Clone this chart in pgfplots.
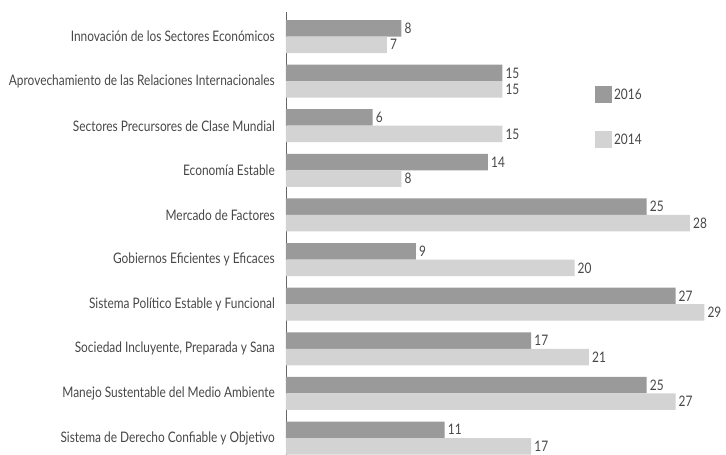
\documentclass[border=0pt]{standalone}
\usepackage{fontspec}
\setmainfont{Lato}[FakeStretch=0.82]
\usepackage{pgfplots}
\pgfplotsset{compat=1.18}
\definecolor{darkbar}{HTML}{9A9A9A}
\definecolor{lightbar}{HTML}{D3D3D3}
\definecolor{txt}{HTML}{474747}
\begin{document}
\begin{tikzpicture}
\begin{axis}[
  at={(286pt,0pt)}, anchor=south west,
  scale only axis, width=440pt, height=443pt,
  xmin=0, xmax=30.5,
  ymin=-0.381, ymax=9.55,
  /pgf/number format/assume math mode=true,
  axis x line=none,
  axis y line*=left,
  y axis line style={draw=black!60, line width=0.8pt, -},
  ytick={0,...,9},
  yticklabels={Sistema de Derecho Confiable y Objetivo,
    Manejo Sustentable del Medio Ambiente,
    {Sociedad Incluyente, Preparada y Sana},
    Sistema Político Estable y Funcional,
    Gobiernos Eficientes y Eficaces,
    Mercado de Factores,
    Economía Estable,
    Sectores Precursores de Clase Mundial,
    Aprovechamiento de las Relaciones Internacionales,
    Innovación de los Sectores Económicos},
  major tick length=0pt,
  yticklabel style={font=\fontsize{14.5}{16}\selectfont, text=txt, inner sep=0pt, xshift=-11pt},
  xbar, bar width=16.5pt,
  nodes near coords,
  every node near coord/.append style={font=\fontsize{14.5}{16}\selectfont, text=txt, anchor=west, inner sep=0pt, xshift=3pt},
  legend style={at={(rel axis cs:0.702,0.833)}, anchor=north west, draw=none, fill=none,
    font=\fontsize{14.5}{16}\selectfont, text=txt, row sep=28pt, inner sep=0pt,
    /tikz/every even column/.append style={column sep=6pt}},
  legend cell align=left,
  legend image code/.code={\fill[#1] (0pt,-8.5pt) rectangle (17pt,8.5pt);},
  clip=false,
]
\addplot[fill=darkbar, draw=none, bar shift=8.25pt] coordinates {
  (11,0) (25,1) (17,2) (27,3) (9,4) (25,5) (14,6) (6,7) (15,8) (8,9)};
\addlegendentry{2016}
\addplot[fill=lightbar, draw=none, bar shift=-8.25pt] coordinates {
  (17,0) (27,1) (21,2) (29,3) (20,4) (28,5) (8,6) (15,7) (15,8) (7,9)};
\addlegendentry{2014}
\end{axis}
\pgfresetboundingbox
\path[use as bounding box] (0pt,0pt) rectangle (726pt,455pt);
\end{tikzpicture}
\end{document}
